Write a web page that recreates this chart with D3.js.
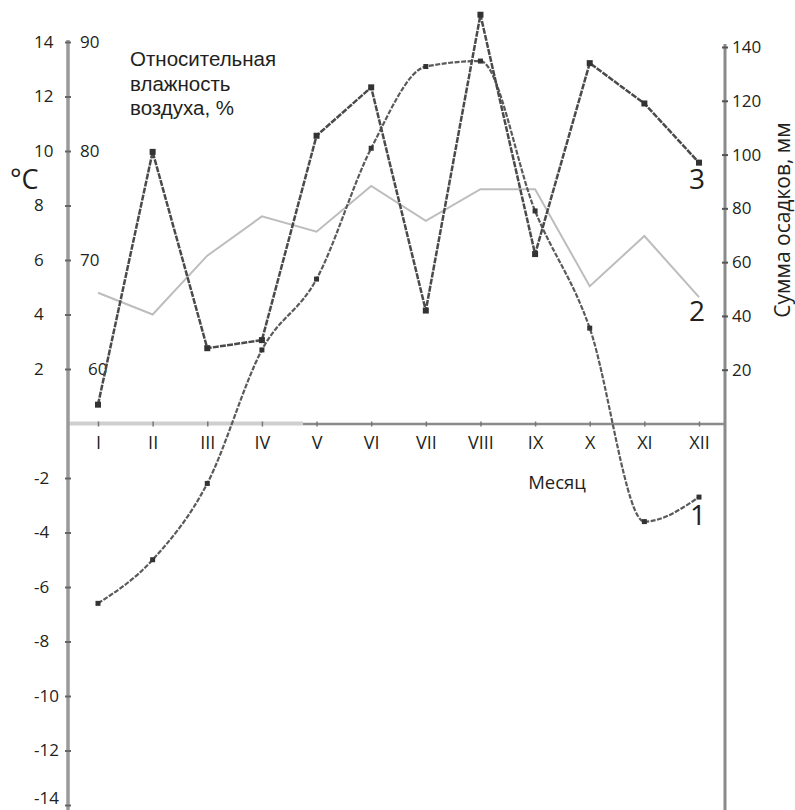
<!DOCTYPE html>
<html>
<head>
<meta charset="UTF-8">
<title>Климатограмма</title>
<script src="https://d3js.org/d3.v7.min.js"></script>
<style>
    body, html {
        margin: 0;
        background: #fff;
    }
    svg text {
        font-family: "Open Sans", "Noto Sans", sans-serif;
        fill: #231f20;
    }
    svg text.htitle {
        font-family: "Liberation Sans", Arial, sans-serif;
    }
</style>
</head>
<body>
<div id="chart"></div>
<script>
    // months (roman numerals)
    const months = ["I", "II", "III", "IV", "V", "VI", "VII", "VIII", "IX", "X", "XI", "XII"];

    // 1 - air temperature, °C
    const temperature = [-6.6, -5.0, -2.2, 2.7, 5.3, 10.1, 13.1, 13.3, 7.8, 3.5, -3.6, -2.7];
    // 2 - relative humidity, %
    const humidity = [67, 65, 70.4, 74, 72.6, 76.8, 73.6, 76.5, 76.5, 67.6, 72.2, 66.6];
    // 3 - precipitation, mm
    const precipitation = [7, 101, 28, 31, 107, 125, 42, 152, 63, 134, 119, 97];

    const tempTicks = [-14, -12, -10, -8, -6, -4, -2, 2, 4, 6, 8, 10, 12, 14];
    const humTicks = [60, 70, 80, 90];
    const precTicks = [20, 40, 60, 80, 100, 120, 140];

    const width = 795, height = 810;
    const leftX = 68, rightX = 725;

    const svg = d3.select("#chart").append("svg")
        .attr("width", width)
        .attr("height", height);

    const x = d3.scalePoint().domain(months).range([98, 699]);
    const yT = d3.scaleLinear().domain([-14, 14]).range([805, 42]);
    const yH = d3.scaleLinear().domain([55, 90]).range([yT(0), yT(14)]);
    const yP = d3.scaleLinear().domain([0, 140]).range([yT(0), 47]);

    // x axis (baseline)
    svg.append("line")
        .attr("x1", leftX).attr("x2", 303)
        .attr("y1", yT(0)).attr("y2", yT(0))
        .attr("stroke", "#cfcfcf").attr("stroke-width", 4);
    svg.append("line")
        .attr("x1", 303).attr("x2", rightX)
        .attr("y1", yT(0) + 0.5).attr("y2", yT(0) + 0.5)
        .attr("stroke", "#8a8a8a").attr("stroke-width", 2.5);

    const xAxis = svg.append("g")
        .attr("transform", "translate(0," + yT(0) + ")")
        .call(d3.axisBottom(x).tickSize(3).tickPadding(10));
    xAxis.select(".domain").remove();
    xAxis.selectAll(".tick line").attr("stroke", "#777").attr("y1", -2).attr("stroke-width", 1.5);
    xAxis.selectAll(".tick text").attr("font-size", 18).attr("fill", "#231f20");

    // left axis, °C
    svg.append("line")
        .attr("x1", leftX).attr("x2", leftX)
        .attr("y1", 40).attr("y2", height)
        .attr("stroke", "#9a9a9a").attr("stroke-width", 3.5);

    const leftAxis = svg.append("g")
        .attr("transform", "translate(" + leftX + ",0)")
        .call(d3.axisLeft(yT).tickValues(tempTicks).tickSize(3).tickFormat(d3.format("d")));
    leftAxis.select(".domain").remove();
    leftAxis.selectAll(".tick line").attr("stroke", "#666").attr("stroke-width", 2).attr("x2", 3).attr("x1", -3);
    leftAxis.selectAll(".tick text")
        .attr("text-anchor", "start")
        .attr("x", 34 - leftX)
        .attr("font-size", 17)
        .attr("fill", "#231f20")
        .attr("dy", d => d === -14 ? "-0.1em" : "0.32em")
        .text(d => d < 0 ? "-" + Math.abs(d) : d);

    // humidity labels next to left axis
    svg.append("g").selectAll("text")
        .data(humTicks)
        .join("text")
        .attr("x", d => d === 60 ? 88 : 80)
        .attr("y", d => yH(d))
        .attr("dy", "0.35em")
        .attr("font-size", 17)
        .text(d => d);

    // right axis, mm
    svg.append("line")
        .attr("x1", rightX).attr("x2", rightX)
        .attr("y1", 44).attr("y2", height)
        .attr("stroke", "#8a8a8a").attr("stroke-width", 3);

    const rightAxis = svg.append("g")
        .attr("transform", "translate(" + rightX + ",0)")
        .call(d3.axisRight(yP).tickValues(precTicks).tickSize(3).tickPadding(4));
    rightAxis.select(".domain").remove();
    rightAxis.selectAll(".tick line").attr("stroke", "#555").attr("stroke-width", 2).attr("x1", -3);
    rightAxis.selectAll(".tick text").attr("font-size", 17).attr("fill", "#231f20");

    // 2 - humidity (light)
    svg.append("path")
        .datum(humidity)
        .attr("fill", "none")
        .attr("stroke", "#bdbdbd")
        .attr("stroke-width", 2)
        .attr("d", d3.line().x((d, i) => x(months[i])).y(d => yH(d)));

    // 1 - temperature (smooth)
    svg.append("path")
        .datum(temperature)
        .attr("fill", "none")
        .attr("stroke", "#5a5a5a")
        .attr("stroke-width", 2.2)
        .attr("stroke-dasharray", "5 1.5")
        .attr("d", d3.line().curve(d3.curveMonotoneX)
            .x((d, i) => x(months[i])).y(d => yT(d)));
    svg.append("g").selectAll("rect")
        .data(temperature)
        .join("rect")
        .attr("x", (d, i) => x(months[i]) - 2.5)
        .attr("y", d => yT(d) - 2.5)
        .attr("width", 5).attr("height", 5)
        .attr("fill", "#333");

    // 3 - precipitation
    svg.append("path")
        .datum(precipitation)
        .attr("fill", "none")
        .attr("stroke", "#4a4a4a")
        .attr("stroke-width", 2.5)
        .attr("stroke-dasharray", "6 1.2")
        .attr("d", d3.line().x((d, i) => x(months[i])).y(d => yP(d)));
    svg.append("g").selectAll("rect")
        .data(precipitation)
        .join("rect")
        .attr("x", (d, i) => x(months[i]) - 3)
        .attr("y", d => yP(d) - 3)
        .attr("width", 6).attr("height", 6)
        .attr("fill", "#333");

    // titles
    svg.append("text")
        .attr("x", 10).attr("y", 189)
        .attr("font-size", 27)
        .text("°C");

    svg.append("g").selectAll("text")
        .data(["Относительная", "влажность", "воздуха, %"])
        .join("text")
        .attr("class", "htitle")
        .attr("x", 130)
        .attr("y", (d, i) => 66 + i * 24.5)
        .attr("font-size", 20.5)
        .text(d => d);

    svg.append("text")
        .attr("transform", "translate(790,220) rotate(-90)")
        .attr("text-anchor", "middle")
        .attr("font-size", 21)
        .text("Сумма осадков, мм");

    svg.append("text")
        .attr("x", 557).attr("y", 489)
        .attr("text-anchor", "middle")
        .attr("font-size", 18.5)
        .text("Месяц");

    // curve numbers
    svg.append("text").attr("x", 697).attr("y", 189).attr("text-anchor", "middle").attr("font-size", 28).text("3");
    svg.append("text").attr("x", 697).attr("y", 321).attr("text-anchor", "middle").attr("font-size", 28).text("2");
    svg.append("text").attr("x", 698).attr("y", 525).attr("text-anchor", "middle").attr("font-size", 28).text("1");
</script>
</body>
</html>
